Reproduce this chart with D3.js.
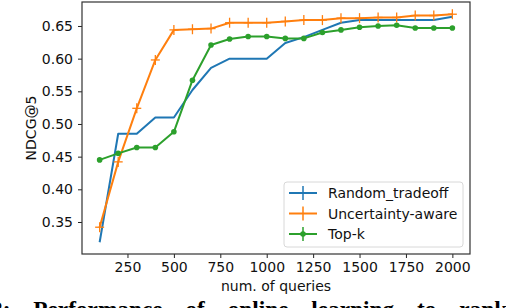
<!DOCTYPE html>
<html>
<head>
<meta charset="utf-8">
<script src="https://cdn.jsdelivr.net/npm/d3@7"></script>
<style>
  html, body { margin: 0; padding: 0; background: #fff; overflow: hidden; }
  svg { display: block; }
</style>
</head>
<body>
<div id="chart"></div>
<script>
"use strict";

// num. of queries
const queries = [100, 200, 300, 400, 500, 600, 700, 800, 900, 1000,
                 1100, 1200, 1300, 1400, 1500, 1600, 1700, 1800, 1900, 2000];

const randomTradeoff = [0.319, 0.485, 0.485, 0.510, 0.510, 0.552, 0.586, 0.600, 0.600, 0.600,
                        0.624, 0.633, 0.644, 0.655, 0.659, 0.659, 0.659, 0.659, 0.659, 0.664];
const uncertaintyAware = [0.342, 0.442, 0.524, 0.598, 0.644, 0.645, 0.646, 0.655, 0.655, 0.655,
                          0.657, 0.659, 0.659, 0.662, 0.662, 0.663, 0.663, 0.666, 0.666, 0.668];
const topK = [0.445, 0.455, 0.464, 0.464, 0.488, 0.567, 0.621, 0.630, 0.634, 0.634,
              0.631, 0.631, 0.640, 0.644, 0.648, 0.650, 0.651, 0.647, 0.647, 0.647];

const xTicks = [250, 500, 750, 1000, 1250, 1500, 1750, 2000];
const yTicks = [0.35, 0.40, 0.45, 0.50, 0.55, 0.60, 0.65];

const seriesNames = ["Random_tradeoff", "Uncertainty-aware", "Top-k"];
const seriesColors = ["#1f77b4", "#ff7f0e", "#2ca02c"];

const W = 506, H = 308;
const plot = { left: 82, right: 470, top: 2, bottom: 254 };
const tickFont = "'DejaVu Sans', sans-serif";

const svg = d3.select("#chart").append("svg")
  .attr("width", W).attr("height", H);

const x = d3.scaleLinear().domain([5, 2095]).range([plot.left, plot.right]);
const y = d3.scaleLinear().domain([0.301, 0.6867]).range([plot.bottom, plot.top]);

// axes
const xAxis = svg.append("g")
  .attr("transform", `translate(0,${plot.bottom})`)
  .call(d3.axisBottom(x).tickValues(xTicks).tickSize(4).tickPadding(4).tickFormat(d3.format("d")));
const yAxis = svg.append("g")
  .attr("transform", `translate(${plot.left},0)`)
  .call(d3.axisLeft(y).tickValues(yTicks).tickSize(4).tickPadding(5).tickFormat(d3.format(".2f")));

[xAxis, yAxis].forEach(a => {
  a.select(".domain").remove();
  a.selectAll(".tick line").attr("stroke", "#222").attr("stroke-width", 1);
  a.selectAll(".tick text").attr("fill", "#111")
    .style("font-family", tickFont).style("font-size", "14px");
});

// frame
svg.append("rect")
  .attr("x", plot.left).attr("y", plot.top)
  .attr("width", plot.right - plot.left).attr("height", plot.bottom - plot.top)
  .attr("fill", "none").attr("stroke", "#333").attr("stroke-width", 1.2);

// lines
const line = d3.line().x((d, i) => x(queries[i])).y(d => y(d));
const allSeries = [randomTradeoff, uncertaintyAware, topK];

allSeries.forEach((vals, k) => {
  svg.append("path")
    .datum(vals)
    .attr("d", line)
    .attr("fill", "none")
    .attr("stroke", seriesColors[k])
    .attr("stroke-width", 2)
    .attr("stroke-linejoin", "round");
});

// '+' markers on Uncertainty-aware
const plus = svg.append("g").attr("stroke", seriesColors[1]).attr("stroke-width", 1.3);
uncertaintyAware.forEach((v, i) => {
  const cx = x(queries[i]), cy = y(v);
  plus.append("line").attr("x1", cx - 4.5).attr("x2", cx + 4.5).attr("y1", cy).attr("y2", cy);
  plus.append("line").attr("x1", cx).attr("x2", cx).attr("y1", cy - 5).attr("y2", cy + 5);
});

// dots on Top-k
svg.append("g").selectAll("circle")
  .data(topK)
  .join("circle")
  .attr("cx", (d, i) => x(queries[i]))
  .attr("cy", d => y(d))
  .attr("r", 2.8)
  .attr("fill", seriesColors[2]);

// axis labels
svg.append("text")
  .attr("x", (plot.left + plot.right) / 2).attr("y", 291)
  .attr("text-anchor", "middle")
  .style("font-family", tickFont).style("font-size", "14px")
  .attr("fill", "#111")
  .text("num. of queries");

svg.append("text")
  .attr("transform", `translate(36,${(plot.top + plot.bottom) / 2}) rotate(-90)`)
  .attr("text-anchor", "middle")
  .style("font-family", tickFont).style("font-size", "14px")
  .attr("fill", "#111")
  .text("NDCG@5");

// legend
const legend = svg.append("g");
legend.append("rect")
  .attr("x", 284).attr("y", 182).attr("width", 179).attr("height", 65)
  .attr("rx", 3).attr("fill", "#fff").attr("fill-opacity", 0.85)
  .attr("stroke", "#d8d8d8").attr("stroke-width", 1);

const rowY = [193, 213.5, 234];
seriesNames.forEach((name, k) => {
  const g = legend.append("g").attr("transform", `translate(0,${rowY[k]})`);
  g.append("line").attr("x1", 289).attr("x2", 317).attr("y1", 0).attr("y2", 0)
    .attr("stroke", seriesColors[k]).attr("stroke-width", 2);
  g.append("line").attr("x1", 303).attr("x2", 303).attr("y1", -7).attr("y2", 7)
    .attr("stroke", seriesColors[k]).attr("stroke-width", 1.5);
  if (k === 2) {
    g.append("circle").attr("cx", 303).attr("cy", 0).attr("r", 2.8).attr("fill", seriesColors[k]);
  }
  g.append("text").attr("x", 328).attr("y", 0).attr("dy", "0.36em")
    .style("font-family", tickFont).style("font-size", "14px")
    .attr("fill", "#111")
    .text(name);
});

// caption fragment (cut off at the bottom, as in the source page)
svg.append("text")
  .attr("x", -9).attr("y", 317)
  .style("font-family", "'Liberation Serif', 'DejaVu Serif', serif")
  .style("font-weight", "bold").style("font-size", "23.3px")
  .style("word-spacing", "17px")
  .attr("fill", "#000")
  .text("2: Performance of online learning to rank");
</script>
</body>
</html>
